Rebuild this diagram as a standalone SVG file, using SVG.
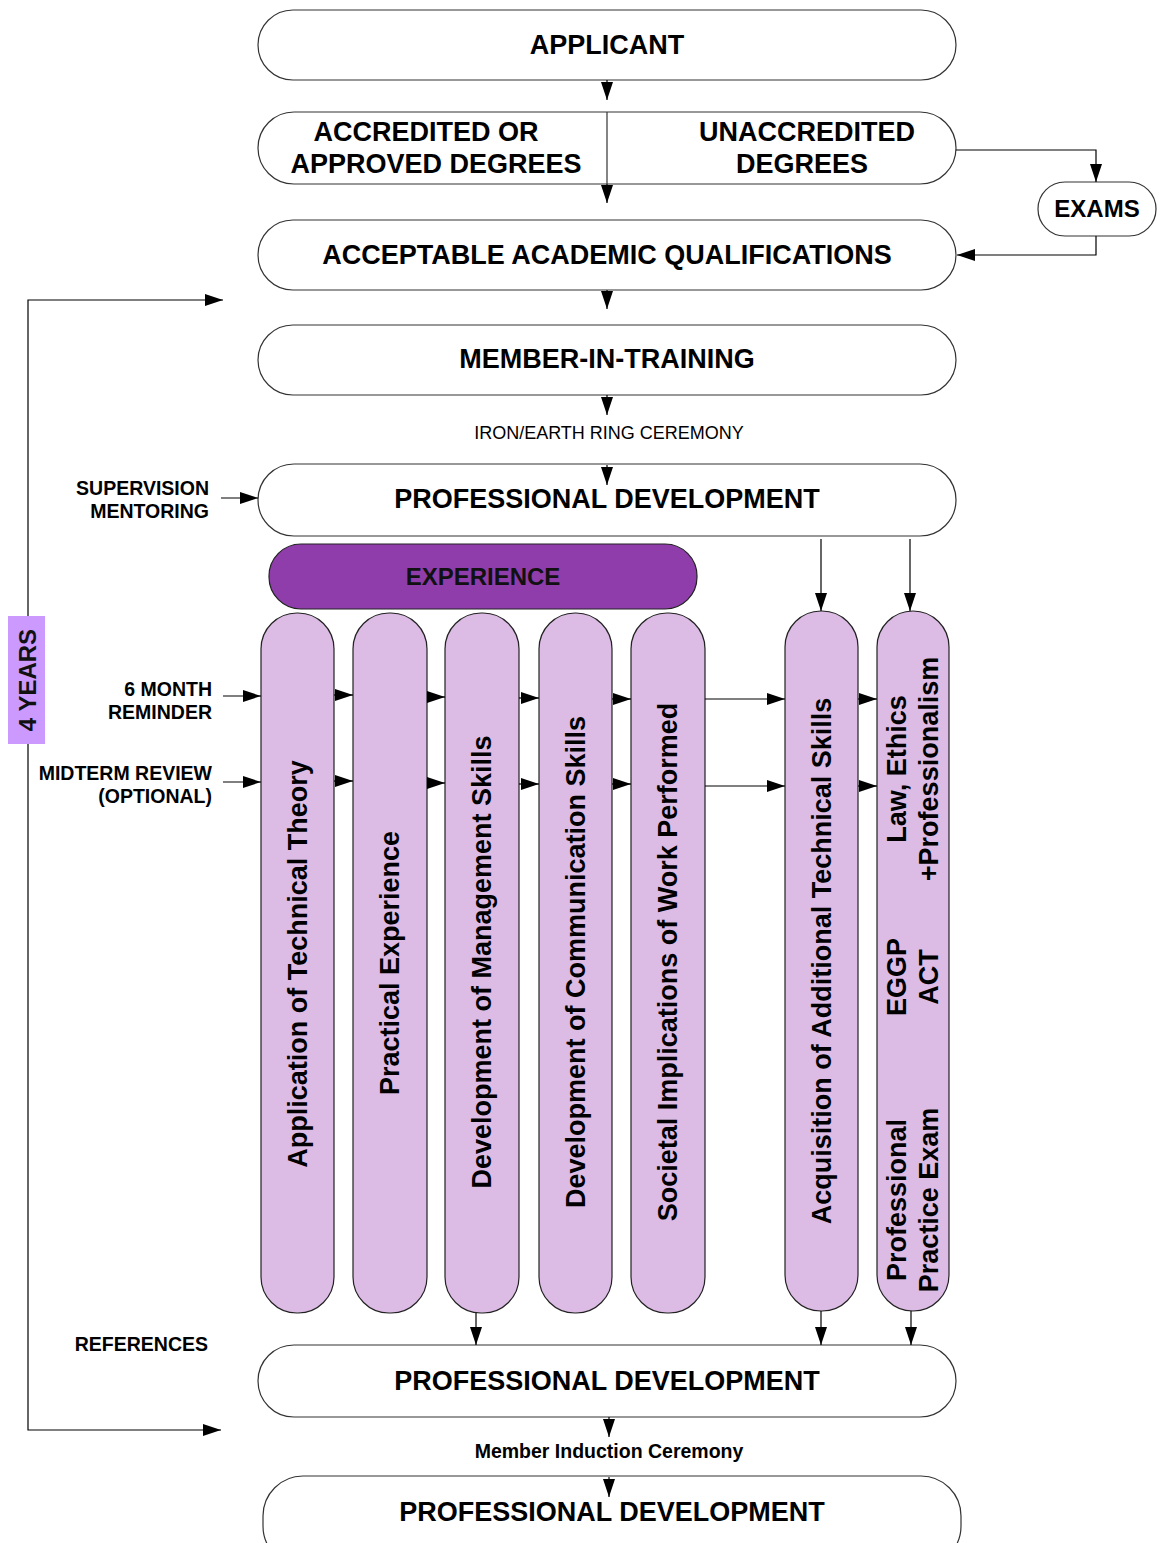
<svg xmlns="http://www.w3.org/2000/svg" width="1160" height="1543" viewBox="0 0 1160 1543">
<defs>
<marker id="ah" markerUnits="userSpaceOnUse" markerWidth="18" markerHeight="14" refX="18" refY="7" orient="auto">
<path d="M0,1 L18,7 L0,13 z" fill="#000"/>
</marker>
<style>
.box{fill:#fff;stroke:#333;stroke-width:1.2}
.col{fill:#dcbbe5;stroke:#222;stroke-width:1.2}
.exp{fill:#8e3dab;stroke:#222;stroke-width:1.2}
.yrs{fill:#cc99ff;stroke:none}
.t{font-family:"Liberation Sans",Arial,sans-serif;font-weight:bold;fill:#000}
.big{font-size:27px;text-anchor:middle}
.lbl{font-size:19.5px;text-anchor:end}
.ct{font-size:27px;text-anchor:middle}
.ln{fill:none;stroke:#000;stroke-width:1.2;marker-end:url(#ah)}
</style>
</defs>
<rect width="1160" height="1543" fill="#fff"/>

<g id="applicant"><rect class="box" x="258" y="10" width="698" height="70" rx="35"/><text class="t big" x="607" y="54">APPLICANT</text></g>

<g id="degrees"><rect class="box" x="258" y="112" width="698" height="72" rx="36"/>
<line x1="607" y1="112" x2="607" y2="184" stroke="#333" stroke-width="1.2"/>
<text class="t big" x="426" y="141">ACCREDITED OR</text>
<text class="t big" x="436" y="173">APPROVED DEGREES</text>
<text class="t big" x="807" y="141">UNACCREDITED</text>
<text class="t big" x="802" y="173">DEGREES</text></g>

<g id="exams"><rect class="box" x="1038" y="182" width="118" height="54" rx="27"/><text class="t" style="font-size:24px;text-anchor:middle" x="1097" y="217">EXAMS</text></g>

<g id="acceptable"><rect class="box" x="258" y="220" width="698" height="70" rx="35"/><text class="t big" x="607" y="264">ACCEPTABLE ACADEMIC QUALIFICATIONS</text></g>

<g id="mit"><rect class="box" x="258" y="325" width="698" height="70" rx="35"/><text class="t big" x="607" y="368">MEMBER-IN-TRAINING</text></g>

<g id="ring-label"><text style="font-family:'Liberation Sans',Arial,sans-serif;font-size:18px;text-anchor:middle" x="609" y="439">IRON/EARTH RING CEREMONY</text></g>

<g id="pd1"><rect class="box" x="258" y="464" width="698" height="72" rx="36"/><text class="t big" x="607" y="508">PROFESSIONAL DEVELOPMENT</text></g>

<g id="supervision"><text class="t lbl" x="209" y="495">SUPERVISION</text><text class="t lbl" x="209" y="518">MENTORING</text></g>

<g id="experience"><rect class="exp" x="269" y="544" width="428" height="65" rx="32"/><text class="t" style="font-size:24px;text-anchor:middle;fill:#111" x="483" y="585">EXPERIENCE</text></g>

<g id="col1"><rect class="col" x="261" y="613" width="73" height="700" rx="36"/><text class="t ct" transform="translate(297.5,964) rotate(-90)" x="0" y="9">Application of Technical Theory</text></g>
<g id="col2"><rect class="col" x="353" y="613" width="74" height="700" rx="36"/><text class="t ct" transform="translate(390,963) rotate(-90)" x="0" y="9">Practical Experience</text></g>
<g id="col3"><rect class="col" x="445" y="613" width="74" height="700" rx="36"/><text class="t ct" transform="translate(482,962) rotate(-90)" x="0" y="9">Development of Management Skills</text></g>
<g id="col4"><rect class="col" x="539" y="613" width="73" height="700" rx="36"/><text class="t ct" transform="translate(575.5,962) rotate(-90)" x="0" y="9">Development of Communication Skills</text></g>
<g id="col5"><rect class="col" x="631" y="613" width="74" height="700" rx="36"/><text class="t ct" transform="translate(668,962) rotate(-90)" x="0" y="9">Societal Implications of Work Performed</text></g>
<g id="col6"><rect class="col" x="785" y="611" width="73" height="700" rx="36"/><text class="t ct" transform="translate(821.5,961) rotate(-90)" x="0" y="9">Acquisition of Additional Technical Skills</text></g>
<g id="col7"><rect class="col" x="877" y="611" width="72" height="700" rx="36"/>
<text class="t ct" transform="translate(913,769) rotate(-90)"><tspan x="0" y="-7">Law, Ethics</tspan><tspan x="0" y="25">+Professionalism</tspan></text>
<text class="t ct" transform="translate(913,977) rotate(-90)"><tspan x="0" y="-7">EGGP</tspan><tspan x="0" y="25">ACT</tspan></text>
<text class="t ct" transform="translate(913,1200) rotate(-90)"><tspan x="0" y="-7">Professional</tspan><tspan x="0" y="25">Practice Exam</tspan></text></g>

<g id="years"><rect class="yrs" x="8" y="616" width="37" height="128"/><text class="t" style="font-size:24px;text-anchor:middle;fill:#111" transform="translate(27,680) rotate(-90)" x="0" y="9">4 YEARS</text></g>

<g id="reminder"><text class="t lbl" x="212" y="696">6 MONTH</text><text class="t lbl" x="212" y="719">REMINDER</text></g>
<g id="midterm"><text class="t lbl" x="212" y="780">MIDTERM REVIEW</text><text class="t lbl" x="212" y="803">(OPTIONAL)</text></g>
<g id="references"><text class="t lbl" x="208" y="1351">REFERENCES</text></g>

<g id="pd2"><rect class="box" x="258" y="1345" width="698" height="72" rx="36"/><text class="t big" x="607" y="1390">PROFESSIONAL DEVELOPMENT</text></g>

<g id="induction-label"><text class="t" style="font-size:19.5px;text-anchor:middle" x="609" y="1458">Member Induction Ceremony</text></g>

<g id="pd3"><rect class="box" x="263" y="1476" width="698" height="90" rx="40"/><text class="t big" x="612" y="1521">PROFESSIONAL DEVELOPMENT</text></g>

<g id="connectors">
<line class="ln" x1="607" y1="80" x2="607" y2="100"/>
<line class="ln" x1="607" y1="184" x2="607" y2="203"/>
<polyline class="ln" points="956,150 1096,150 1096,182"/>
<polyline class="ln" points="1096,236 1096,255 957,255"/>
<line class="ln" x1="607" y1="290" x2="607" y2="309"/>
<line class="ln" x1="607" y1="395" x2="607" y2="415"/>
<line class="ln" x1="607" y1="465" x2="607" y2="485"/>
<line class="ln" x1="221" y1="498" x2="258" y2="498"/>
<line class="ln" x1="821" y1="539" x2="821" y2="611"/>
<line class="ln" x1="910" y1="539" x2="910" y2="611"/>
<polyline class="ln" points="28,616 28,300 223,300"/>
<polyline class="ln" points="28,744 28,1430 221,1430"/>
<line class="ln" x1="223" y1="696" x2="261" y2="696"/>
<line class="ln" x1="223" y1="782" x2="261" y2="782"/>
<line class="ln" x1="334" y1="695" x2="353" y2="695"/>
<line class="ln" x1="427" y1="697" x2="445" y2="697"/>
<line class="ln" x1="519" y1="698" x2="539" y2="698"/>
<line class="ln" x1="612" y1="699" x2="631" y2="699"/>
<line class="ln" x1="705" y1="699" x2="785" y2="699"/>
<line class="ln" x1="858" y1="699" x2="877" y2="699"/>
<line class="ln" x1="334" y1="781" x2="353" y2="781"/>
<line class="ln" x1="427" y1="783" x2="445" y2="783"/>
<line class="ln" x1="519" y1="784" x2="539" y2="784"/>
<line class="ln" x1="612" y1="784" x2="631" y2="784"/>
<line class="ln" x1="705" y1="786" x2="785" y2="786"/>
<line class="ln" x1="858" y1="786" x2="877" y2="786"/>
<line class="ln" x1="476" y1="1313" x2="476" y2="1345"/>
<line class="ln" x1="821" y1="1311" x2="821" y2="1345"/>
<line class="ln" x1="911" y1="1311" x2="911" y2="1345"/>
<line class="ln" x1="609" y1="1417" x2="609" y2="1437"/>
<line class="ln" x1="609" y1="1477" x2="609" y2="1497"/>
</g>
</svg>
